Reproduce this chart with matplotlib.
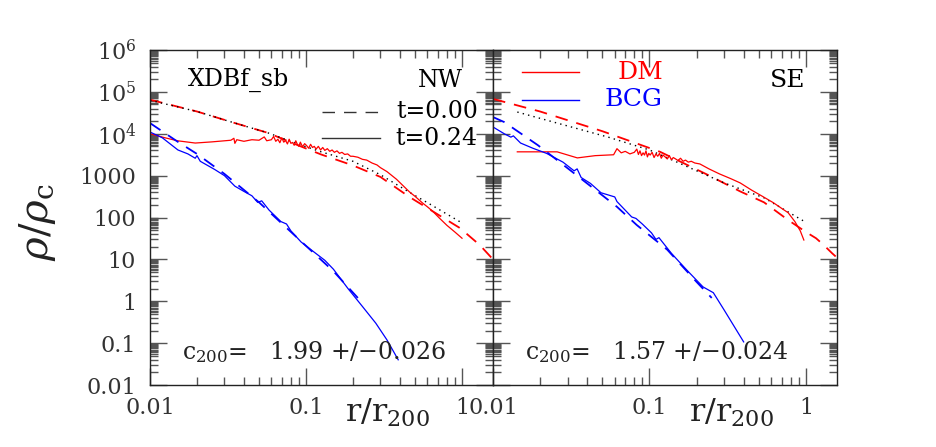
import numpy as np
import matplotlib
matplotlib.use('Agg')
import matplotlib.pyplot as plt
from matplotlib.ticker import LogLocator, NullFormatter

plt.rcParams['font.family'] = 'DejaVu Serif'
plt.rcParams['mathtext.fontset'] = 'dejavuserif'

# ---- NW panel ----
# DM, t=0.00 (red dashed)
nw_dm0_x = [0.01, 0.02, 0.035, 0.057, 0.09, 0.125, 0.2, 0.3, 0.46, 0.65, 0.97, 1.3, 1.58]
nw_dm0_y = [6.5e4, 3.4e4, 1.8e4, 1.05e4, 5.2e3, 3.2e3, 1.75e3, 930, 310, 140, 56, 22, 10]
# fit (black dotted)
nw_fit_x = [0.01, 0.02, 0.035, 0.057, 0.09, 0.125, 0.2, 0.3, 0.46, 0.65, 1.0]
nw_fit_y = [6.3e4, 3.4e4, 1.8e4, 1.05e4, 5.6e3, 3.7e3, 2.2e3, 1.05e3, 400, 190, 74]
# DM, t=0.24 (red solid)
nw_dm1_x = [0.010, 0.0125, 0.015, 0.0195, 0.025, 0.033, 0.0345, 0.035, 0.036, 0.040,
            0.045, 0.050, 0.054, 0.056, 0.060, 0.062, 0.064, 0.066, 0.068, 0.070,
            0.072, 0.074, 0.076, 0.078, 0.080, 0.082, 0.084, 0.086, 0.088, 0.090,
            0.092, 0.095, 0.098, 0.101, 0.104, 0.107, 0.110, 0.113, 0.116, 0.120,
            0.124, 0.128, 0.132, 0.137, 0.142, 0.147, 0.152, 0.158, 0.164, 0.170,
            0.177, 0.185, 0.193, 0.200, 0.215, 0.230, 0.245, 0.265, 0.285, 0.300,
            0.330, 0.380, 0.420, 0.460, 0.500, 0.560, 0.600, 0.650, 0.720, 0.800,
            0.900, 1.0]
nw_dm1_y = [1.0e4, 8.0e3, 6.8e3, 6.0e3, 6.4e3, 7.0e3, 7.8e3, 5.9e3, 7.2e3, 6.6e3,
            7.2e3, 7.0e3, 8.4e3, 6.8e3, 7.2e3, 8.6e3, 6.6e3, 7.4e3, 6.1e3, 8.0e3,
            6.3e3, 6.9e3, 5.7e3, 7.4e3, 5.9e3, 6.2e3, 5.3e3, 6.8e3, 5.6e3, 5.0e3,
            6.3e3, 4.9e3, 5.8e3, 5.2e3, 4.5e3, 5.6e3, 4.7e3, 5.0e3, 4.3e3, 5.0e3,
            4.1e3, 4.7e3, 4.0e3, 4.4e3, 3.8e3, 4.1e3, 3.6e3, 3.9e3, 3.4e3, 3.6e3,
            3.2e3, 3.3e3, 2.9e3, 2.9e3, 2.75e3, 2.45e3, 2.35e3, 2.0e3, 1.8e3, 1.55e3,
            1.25e3, 820, 570, 410, 320, 220, 180, 140, 95, 65,
            45, 32]
# BCG, t=0.00 (blue dashed)
nw_bcg0_x = [0.01, 0.015, 0.02, 0.03, 0.05, 0.1, 0.15, 0.215]
nw_bcg0_y = [1.8e4, 6.5e3, 3.3e3, 1.1e3, 230, 21, 5.2, 1.2]
# BCG, t=0.24 (blue solid)
nw_bcg1_x = [0.010, 0.012, 0.0151, 0.0175, 0.0195, 0.020, 0.021, 0.026, 0.030, 0.035,
             0.040, 0.045, 0.049, 0.052, 0.058, 0.069, 0.075, 0.080, 0.093, 0.110,
             0.132, 0.150, 0.186, 0.230, 0.280, 0.330, 0.390]
nw_bcg1_y = [1.1e4, 8.0e3, 4.1e3, 3.3e3, 2.6e3, 3.0e3, 2.2e3, 1.4e3, 1.0e3, 560,
             420, 330, 230, 250, 150, 80, 70, 48, 26, 16,
             9.5, 5.8, 2.0, 0.75, 0.30, 0.12, 0.04]

# ---- SE panel ----
se_dm0_x = [0.01, 0.02, 0.05, 0.117, 0.235, 0.38, 0.54, 0.77, 1.0, 1.16, 1.3, 1.47, 1.58]
se_dm0_y = [6.8e4, 3.4e4, 1.15e4, 3.7e3, 1.05e3, 420, 230, 87, 45, 32, 22, 14, 11]
se_fit_x = [0.0143, 0.025, 0.0545, 0.1, 0.15, 0.3, 0.54, 0.98]
se_fit_y = [3.3e4, 1.85e4, 8.3e3, 4.1e3, 2.1e3, 670, 295, 80]
se_dm1_x = [0.0143, 0.0257, 0.0346, 0.045, 0.059, 0.062, 0.066, 0.070, 0.075, 0.080,
            0.083, 0.085, 0.087, 0.089, 0.091, 0.093, 0.095, 0.097, 0.099, 0.101,
            0.104, 0.107, 0.110, 0.113, 0.116, 0.119, 0.122, 0.126, 0.130, 0.134,
            0.138, 0.142, 0.147, 0.152, 0.158, 0.164, 0.170, 0.177, 0.185, 0.195,
            0.210, 0.240, 0.280, 0.330, 0.380, 0.450, 0.520, 0.620,
            0.700, 0.770, 0.850, 0.920, 0.970]
se_dm1_y = [3.7e3, 3.7e3, 2.65e3, 3.0e3, 3.15e3, 4.4e3, 3.5e3, 3.8e3, 3.3e3, 3.6e3,
            4.3e3, 3.2e3, 3.9e3, 3.0e3, 3.5e3, 3.1e3, 3.9e3, 2.8e3, 3.4e3, 3.1e3,
            3.6e3, 2.7e3, 3.3e3, 2.9e3, 3.4e3, 2.6e3, 3.1e3, 2.8e3, 2.5e3, 3.0e3,
            2.4e3, 2.7e3, 2.5e3, 2.3e3, 2.6e3, 2.2e3, 2.35e3, 2.1e3, 2.2e3, 2.0e3,
            1.9e3, 1.45e3, 1.1e3, 850, 670, 450, 330, 225,
            165, 130, 80, 48, 29]
se_bcg0_x = [0.01, 0.0118, 0.0194, 0.03, 0.045, 0.062, 0.083, 0.13, 0.2, 0.25]
se_bcg0_y = [2.5e4, 1.9e4, 5.3e3, 1.5e3, 460, 180, 66, 17, 2.9, 1.2]
se_bcg1_x = [0.010, 0.0118, 0.013, 0.0135, 0.015, 0.018, 0.022, 0.028, 0.033, 0.0345,
             0.0366, 0.042, 0.049, 0.060, 0.062, 0.077, 0.082, 0.090, 0.103, 0.110,
             0.115, 0.138, 0.166, 0.178, 0.220, 0.256, 0.300, 0.400]
se_bcg1_y = [1.45e4, 1.0e4, 8.3e3, 8.9e3, 6.0e3, 4.5e3, 3.4e3, 2.1e3, 1.3e3, 1.45e3,
             900, 650, 390, 310, 240, 103, 95, 70, 43, 30,
             33, 14, 6.6, 5.0, 2.2, 1.6, 0.62, 0.107]

c200_nw = '1.99 +/\u22120.026'
c200_se = '1.57 +/\u22120.024'

xtick_vals = [0.01, 0.1, 1]
xtick_labs = ['0.01', '0.1', '1']
ytick_vals = [1e-2, 1e-1, 1, 10, 100, 1000, 1e4, 1e5, 1e6]
ytick_labs = ['0.01', '0.1', '1', '10', '100', '1000', '$10^4$', '$10^5$', '$10^6$']
# the y axis has a finer set of minor ticks than the x axis
y_subs = [2, 3, 4, 5, 5.5, 6, 6.5, 7, 7.5, 8, 8.5, 9, 9.5]

W, H = 937, 447
fig = plt.figure(figsize=(W / 100, H / 100), dpi=100)
ax1 = fig.add_axes([150 / W, 62 / H, 343 / W, 335 / H])
ax2 = fig.add_axes([493 / W, 62 / H, 344 / W, 335 / H])

dash = (0, (7, 5))
dot = (0, (1, 3))

panels = [
    (ax1, nw_dm0_x, nw_dm0_y, nw_fit_x, nw_fit_y, nw_dm1_x, nw_dm1_y,
     nw_bcg0_x, nw_bcg0_y, nw_bcg1_x, nw_bcg1_y, c200_nw),
    (ax2, se_dm0_x, se_dm0_y, se_fit_x, se_fit_y, se_dm1_x, se_dm1_y,
     se_bcg0_x, se_bcg0_y, se_bcg1_x, se_bcg1_y, c200_se),
]

for (ax, d0x, d0y, fx, fy, d1x, d1y, b0x, b0y, b1x, b1y, ctxt) in panels:
    ax.plot(d0x, d0y, color='red', lw=1.3, ls=dash)
    ax.plot(fx, fy, color='black', lw=1.0, ls=dot)
    ax.plot(d1x, d1y, color='red', lw=0.9)
    ax.plot(b0x, b0y, color='blue', lw=1.3, ls=dash)
    ax.plot(b1x, b1y, color='blue', lw=0.9)

    ax.set_xscale('log')
    ax.set_yscale('log')
    ax.set_xlim(0.01, 1.58)
    ax.set_ylim(0.01, 1e6)
    ax.set_xticks(xtick_vals)
    ax.set_xticklabels(xtick_labs)
    ax.set_yticks(ytick_vals)
    ax.xaxis.set_minor_locator(LogLocator(base=10, subs=np.arange(2, 10), numticks=40))
    ax.yaxis.set_minor_locator(LogLocator(base=10, subs=y_subs, numticks=40))
    ax.xaxis.set_minor_formatter(NullFormatter())
    ax.yaxis.set_minor_formatter(NullFormatter())
    ax.tick_params(which='both', direction='in', top=True, right=True,
                   color='#555555', width=1.0, labelsize=16, labelcolor='#333333')
    ax.tick_params(which='major', length=12.5)
    ax.tick_params(which='minor', length=6)
    ax.tick_params(axis='x', pad=9)
    ax.tick_params(axis='y', pad=10)
    for s in ax.spines.values():
        s.set_linewidth(1.0)
        s.set_color('#222222')

    ax.text(0.093, 0.099, r'c$_{200}$=   ' + ctxt, transform=ax.transAxes,
            fontsize=17, va='center', ha='left', color='#222222')
    ax.text(0.569, -0.11, r'r/r$_{200}$', transform=ax.transAxes,
            fontsize=23, va='baseline', ha='left', color='#222222')

ax1.set_yticklabels(ytick_labs)
ax2.set_yticklabels([])

# labels in the NW panel
ax1.text(0.111, 0.910, 'XDBf_sb', transform=ax1.transAxes, fontsize=17,
         va='center', ha='left')
ax1.text(0.913, 0.910, 'NW', transform=ax1.transAxes, fontsize=17,
         va='center', ha='right')
ax1.plot([0.501, 0.671], [0.815, 0.815], transform=ax1.transAxes,
         color='#333333', lw=1.0, ls=(0, (9, 6.5)))
ax1.plot([0.501, 0.671], [0.737, 0.737], transform=ax1.transAxes,
         color='#333333', lw=1.0)
ax1.text(0.956, 0.815, 't=0.00', transform=ax1.transAxes, fontsize=17,
         va='center', ha='right')
ax1.text(0.956, 0.737, 't=0.24', transform=ax1.transAxes, fontsize=17,
         va='center', ha='right')

# labels in the SE panel
ax2.plot([0.084, 0.25], [0.934, 0.934], transform=ax2.transAxes, color='red', lw=1.0)
ax2.plot([0.084, 0.25], [0.851, 0.851], transform=ax2.transAxes, color='blue', lw=1.0)
ax2.text(0.494, 0.934, 'DM', transform=ax2.transAxes, fontsize=18, color='red',
         va='center', ha='right')
ax2.text(0.494, 0.851, 'BCG', transform=ax2.transAxes, fontsize=18, color='blue',
         va='center', ha='right')
ax2.text(0.907, 0.910, 'SE', transform=ax2.transAxes, fontsize=18,
         va='center', ha='right')

fig.text(38 / W, 1 - 222 / H, r'$\rho/\rho_{\rm c}$', rotation=90, fontsize=29,
         va='center', ha='center', color='#222222')

fig.savefig('out.png', dpi=100)
